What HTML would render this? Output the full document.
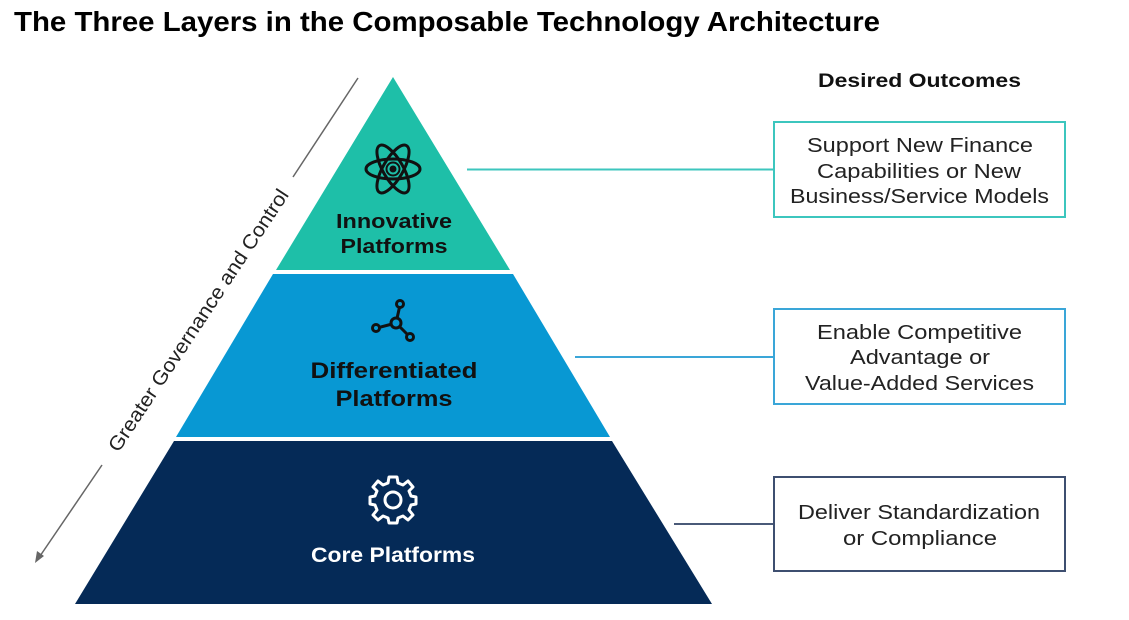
<!DOCTYPE html>
<html>
<head>
<meta charset="utf-8">
<style>
html,body{margin:0;padding:0;background:#fff;}
svg{display:block;}
text{font-family:"Liberation Sans",Arial,sans-serif;}
</style>
</head>
<body>
<svg width="1129" height="620" viewBox="0 0 1129 620" xmlns="http://www.w3.org/2000/svg">
  <!-- Title -->
  <text x="14" y="31" font-size="28" font-weight="bold" fill="#000" textLength="866" lengthAdjust="spacingAndGlyphs">The Three Layers in the Composable Technology Architecture</text>

  <!-- Desired Outcomes -->
  <text x="818" y="87" font-size="19" font-weight="bold" fill="#111" textLength="203" lengthAdjust="spacingAndGlyphs">Desired Outcomes</text>

  <!-- Pyramid layers -->
  <polygon points="393,77 510,270 276,270" fill="#1ebfa8"/>
  <polygon points="273,274 513,274 610,437 176,437" fill="#0898d3"/>
  <polygon points="174,441 612,441 712,604 75,604" fill="#052a57"/>

  <!-- Governance arrow -->
  <line x1="358" y1="78" x2="293" y2="177" stroke="#666" stroke-width="1.5"/>
  <line x1="102" y1="465" x2="38" y2="559" stroke="#666" stroke-width="1.5"/>
  <polygon points="35,563 37,551 44,556" fill="#666"/>
  <text x="0" y="0" font-size="20" fill="#222" text-anchor="middle" textLength="310" lengthAdjust="spacingAndGlyphs" transform="translate(204,324) rotate(-56.5)">Greater Governance and Control</text>

  <!-- Connectors -->
  <line x1="467" y1="169.5" x2="774" y2="169.5" stroke="#3cc6be" stroke-width="2"/>
  <line x1="575" y1="357" x2="774" y2="357" stroke="#3aa6d8" stroke-width="2"/>
  <line x1="674" y1="524" x2="774" y2="524" stroke="#4a5a78" stroke-width="2"/>

  <!-- Boxes -->
  <rect x="774" y="122" width="291" height="95" fill="#fff" stroke="#3cc6be" stroke-width="2"/>
  <rect x="774" y="309" width="291" height="95" fill="#fff" stroke="#3aa6d8" stroke-width="2"/>
  <rect x="774" y="477" width="291" height="94" fill="#fff" stroke="#3e4f70" stroke-width="2"/>

  <g font-size="20" fill="#222" text-anchor="middle" lengthAdjust="spacingAndGlyphs">
    <text x="920" y="152" textLength="226" lengthAdjust="spacingAndGlyphs">Support New Finance</text>
    <text x="919" y="178" textLength="204" lengthAdjust="spacingAndGlyphs">Capabilities or New</text>
    <text x="919.5" y="203" textLength="259" lengthAdjust="spacingAndGlyphs">Business/Service Models</text>
    <text x="919.5" y="339" textLength="205" lengthAdjust="spacingAndGlyphs">Enable Competitive</text>
    <text x="920" y="364" textLength="140" lengthAdjust="spacingAndGlyphs">Advantage or</text>
    <text x="919.5" y="390" textLength="229" lengthAdjust="spacingAndGlyphs">Value-Added Services</text>
    <text x="919" y="519" textLength="242" lengthAdjust="spacingAndGlyphs">Deliver Standardization</text>
    <text x="920" y="545" textLength="154" lengthAdjust="spacingAndGlyphs">or Compliance</text>
  </g>

  <!-- Atom icon -->
  <g fill="none" stroke="#111" stroke-width="3" transform="translate(393,169)">
    <ellipse cx="0" cy="0" rx="27" ry="10"/>
    <ellipse cx="0" cy="0" rx="27" ry="10" transform="rotate(60)"/>
    <ellipse cx="0" cy="0" rx="27" ry="10" transform="rotate(-60)"/>
    <circle cx="0" cy="0" r="6.5" stroke-width="2"/>
    <circle cx="0" cy="0" r="3.5" fill="#111" stroke="none"/>
  </g>
  <g font-size="20" font-weight="bold" fill="#111" text-anchor="middle">
    <text x="394" y="228" textLength="116" lengthAdjust="spacingAndGlyphs">Innovative</text>
    <text x="394" y="253" textLength="107" lengthAdjust="spacingAndGlyphs">Platforms</text>
  </g>

  <!-- Network icon -->
  <g fill="none" stroke="#111" stroke-width="3">
    <line x1="396" y1="323" x2="400" y2="305"/>
    <line x1="396" y1="323" x2="377" y2="328"/>
    <line x1="396" y1="323" x2="409" y2="336"/>
    <circle cx="396" cy="323" r="5" fill="#0898d3"/>
    <circle cx="400" cy="304" r="3.5" fill="#0898d3"/>
    <circle cx="376" cy="328" r="3.5" fill="#0898d3"/>
    <circle cx="410" cy="337" r="3.5" fill="#0898d3"/>
  </g>
  <g font-size="22" font-weight="bold" fill="#111" text-anchor="middle">
    <text x="394" y="378" textLength="167" lengthAdjust="spacingAndGlyphs">Differentiated</text>
    <text x="394" y="406" textLength="117" lengthAdjust="spacingAndGlyphs">Platforms</text>
  </g>

  <!-- Gear icon -->
  <g transform="translate(393,500)" fill="none" stroke="#fff" stroke-width="3" stroke-linejoin="round">
    <path d="M-4,-23 L4,-23 L5,-17 L10,-15 L15,-19 L20,-13 L16,-9 L18,-4 L23,-3 L23,4 L18,5 L16,10 L20,15 L15,20 L10,16 L5,18 L4,23 L-4,23 L-5,18 L-10,16 L-15,20 L-20,15 L-16,10 L-18,5 L-23,4 L-23,-3 L-18,-4 L-16,-9 L-20,-13 L-15,-19 L-10,-15 L-5,-17 Z"/>
    <circle cx="0" cy="0" r="8"/>
  </g>
  <text x="393" y="562" font-size="21" font-weight="bold" fill="#fff" text-anchor="middle" textLength="164" lengthAdjust="spacingAndGlyphs">Core Platforms</text>
</svg>
</body>
</html>
